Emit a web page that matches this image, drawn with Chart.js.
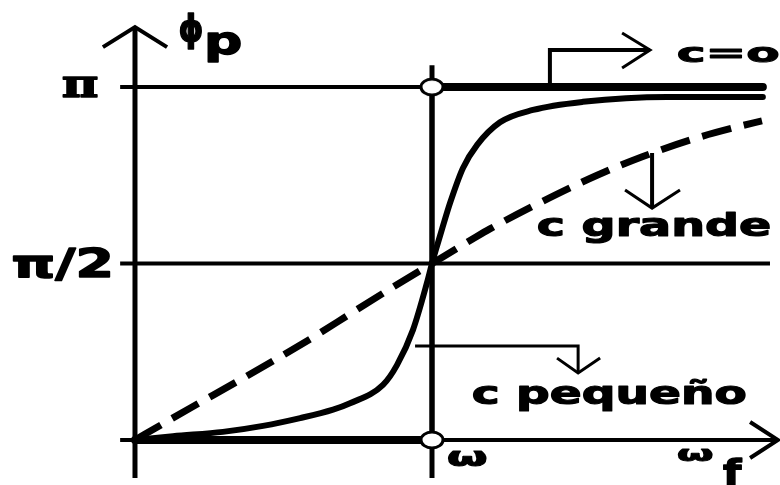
<!DOCTYPE html>
<html>
<head>
<meta charset="utf-8">
<script src="https://cdn.jsdelivr.net/npm/chart.js@4/dist/chart.umd.min.js"></script>
<style>
  html, body { margin: 0; padding: 0; background: #fff; }
  canvas { display: block; }
</style>
</head>
<body>
<canvas id="phaseChart" width="780" height="485"></canvas>
<script>
// Forcing frequency in units of ω, phase lag in units of π

// c pequeño (light damping)
const omegaSmall = [0, 0.128, 0.296, 0.431, 0.556, 0.667, 0.724, 0.835, 0.882, 0.936, 0.983, 1.0, 1.017, 1.034, 1.061, 1.104, 1.152, 1.229, 1.340, 1.508, 1.791, 2.114];
const phaseSmall = [0, 0.011, 0.023, 0.040, 0.062, 0.086, 0.104, 0.156, 0.212, 0.312, 0.445, 0.5, 0.550, 0.598, 0.672, 0.770, 0.836, 0.900, 0.935, 0.958, 0.972, 0.972];

// c grande (heavy damping)
const omegaLarge = [0, 0.094, 0.185, 0.343, 0.498, 0.613, 0.724, 0.859, 1.0, 1.138, 1.195, 1.374, 1.556, 1.710, 1.869, 2.037, 2.111];
const phaseLarge = [0, 0.046, 0.090, 0.165, 0.240, 0.298, 0.357, 0.428, 0.5, 0.570, 0.598, 0.677, 0.750, 0.803, 0.850, 0.889, 0.904];

// c = 0 (step at resonance)
const omegaZeroLow = [0, 1];
const phaseZeroLow = [0, 0];
const omegaZeroHigh = [1, 2.114];
const phaseZeroHigh = [1, 1];
const omegaJump = [1, 1];
const phaseJump = [0, 1];

// y tick labels
const yTickValues = [1, 0.5];
const yTickLabels = ['π', 'π/2'];

// axis limits
const xMin = -0.4545, xMax = 2.1717;
const yMin = -0.1275, yMax = 1.2465;

const pts = (xs, ys) => xs.map((x, i) => ({ x: x, y: ys[i] }));
const path = arr => arr.map(p => ({ x: p[0], y: p[1] }));

// axes, guides and pointer arrows (data units)
const yAxisPath = [[0, -0.108], [0, 1.17]];
const yAxisHead = [[-0.108, 1.113], [0, 1.17], [0.108, 1.113]];
const xAxisPath = [[-0.05, 0], [2.165, 0]];
const xAxisHead = [[2.071, 0.051], [2.165, 0], [2.071, -0.051]];
const piGuide = [[-0.05, 1], [2.114, 1]];
const halfPiGuide = [[-0.05, 0.5], [2.138, 0.5]];
const omegaGuide = [[1, -0.108], [1, 1.062]];
const zeroPointer = [[1.397, 1.0], [1.397, 1.105], [1.734, 1.105]];
const zeroHead = [[1.640, 1.153], [1.734, 1.105], [1.640, 1.054]];
const largePointer = [[1.741, 0.813], [1.741, 0.657]];
const largeHead = [[1.650, 0.708], [1.741, 0.657], [1.835, 0.708]];
const smallPointer = [[0.943, 0.266], [1.492, 0.266], [1.492, 0.190]];
const smallHead = [[1.421, 0.232], [1.492, 0.190], [1.566, 0.232]];

// open ellipse used for the discontinuity markers
const ring = document.createElement('canvas');
ring.width = 28; ring.height = 22;
(function () {
  const g = ring.getContext('2d');
  g.beginPath();
  g.ellipse(14, 11, 11, 8, 0, 0, Math.PI * 2);
  g.fillStyle = '#fff';
  g.fill();
  g.lineWidth = 3;
  g.strokeStyle = '#000';
  g.stroke();
})();

function line(data, width, extra) {
  return Object.assign({
    data: data,
    borderColor: '#000',
    borderWidth: width,
    pointRadius: 0,
    fill: false,
    tension: 0,
    borderCapStyle: 'butt',
    borderJoinStyle: 'miter'
  }, extra || {});
}

// text boxes in data units: [text, font, left, top, right, bottom]
const labels = [
  ['c=o', 'bold 40px "DejaVu Sans"', 1.828, 1.113, 2.165, 1.068],
  ['c grande', 'bold 40px "DejaVu Sans"', 1.357, 0.646, 2.138, 0.558],
  ['c pequeño', 'bold 40px "DejaVu Sans"', 1.138, 0.173, 2.054, 0.082],
  ['ω', 'bold 40px "DejaVu Sans"', 1.054, -0.034, 1.185, -0.076],
  ['ω', 'bold 40px "DejaVu Sans"', 1.828, -0.028, 1.946, -0.062],
  ['f', 'bold 40px "DejaVu Sans"', 1.980, -0.051, 2.044, -0.127],
  ['ϕ', 'bold 40px "DejaVu Sans"', 0.152, 1.212, 0.226, 1.105],
  ['p', 'bold 40px "DejaVu Sans"', 0.246, 1.156, 0.354, 1.071]
];
// tick label extents: [left, right, half height]
const tickBoxes = [[-0.242, -0.128, 0.028], [-0.411, -0.084, 0.048]];

function fitText(ctx, text, font, left, top, right, bottom) {
  ctx.save();
  ctx.font = font;
  ctx.textAlign = 'left';
  ctx.textBaseline = 'alphabetic';
  const m = ctx.measureText(text);
  const w = m.actualBoundingBoxLeft + m.actualBoundingBoxRight;
  const h = m.actualBoundingBoxAscent + m.actualBoundingBoxDescent;
  const sx = (right - left) / w;
  const sy = (bottom - top) / h;
  ctx.translate(left + m.actualBoundingBoxLeft * sx, top + m.actualBoundingBoxAscent * sy);
  ctx.scale(sx, sy);
  ctx.fillStyle = '#000';
  ctx.strokeStyle = '#000';
  ctx.lineWidth = 1.5;
  ctx.lineJoin = 'round';
  ctx.fillText(text, 0, 0);
  ctx.strokeText(text, 0, 0);
  ctx.restore();
}

const textPlugin = {
  id: 'phaseText',
  afterDatasetsDraw(chart) {
    const ctx = chart.ctx;
    const xs = chart.scales.x, ys = chart.scales.y;
    labels.forEach(l => {
      fitText(ctx, l[0], l[1],
        xs.getPixelForValue(l[2]), ys.getPixelForValue(l[3]),
        xs.getPixelForValue(l[4]), ys.getPixelForValue(l[5]));
    });
    yTickValues.forEach((v, i) => {
      const b = tickBoxes[i];
      const font = i === 0 ? 'bold 40px "DejaVu Serif"' : 'bold 40px "DejaVu Sans"';
      fitText(ctx, yTickLabels[i], font,
        xs.getPixelForValue(b[0]), ys.getPixelForValue(v + b[2]),
        xs.getPixelForValue(b[1]), ys.getPixelForValue(v - b[2]));
    });
  }
};

new Chart(document.getElementById('phaseChart'), {
  type: 'line',
  data: {
    datasets: [
      // markers first so they sit on top
      { data: [{ x: 1, y: 0 }, { x: 1, y: 1 }], showLine: false, pointStyle: ring, pointRadius: 10 },
      line(pts(omegaSmall, phaseSmall), 6, { cubicInterpolationMode: 'monotone', borderCapStyle: 'round' }),
      line(pts(omegaLarge, phaseLarge), 7, { cubicInterpolationMode: 'monotone', borderDash: [30, 13] }),
      line(pts(omegaZeroLow, phaseZeroLow), 8, { borderCapStyle: 'round' }),
      line(pts(omegaZeroHigh, phaseZeroHigh), 8, { borderCapStyle: 'round' }),
      line(pts(omegaJump, phaseJump), 5),
      line(path(zeroPointer), 4),
      line(path(zeroHead), 3),
      line(path(largePointer), 4),
      line(path(largeHead), 3),
      line(path(smallPointer), 3),
      line(path(smallHead), 3),
      line(path(omegaGuide), 5),
      line(path(piGuide), 4),
      line(path(halfPiGuide), 4),
      line(path(yAxisPath), 5),
      line(path(yAxisHead), 4),
      line(path(xAxisPath), 4),
      line(path(xAxisHead), 4)
    ]
  },
  options: {
    responsive: false,
    animation: false,
    events: [],
    layout: { padding: 0, autoPadding: false },
    plugins: { legend: { display: false }, tooltip: { enabled: false } },
    scales: {
      x: { type: 'linear', min: xMin, max: xMax, display: false },
      y: { type: 'linear', min: yMin, max: yMax, display: false }
    }
  },
  plugins: [textPlugin]
});
</script>
</body>
</html>
